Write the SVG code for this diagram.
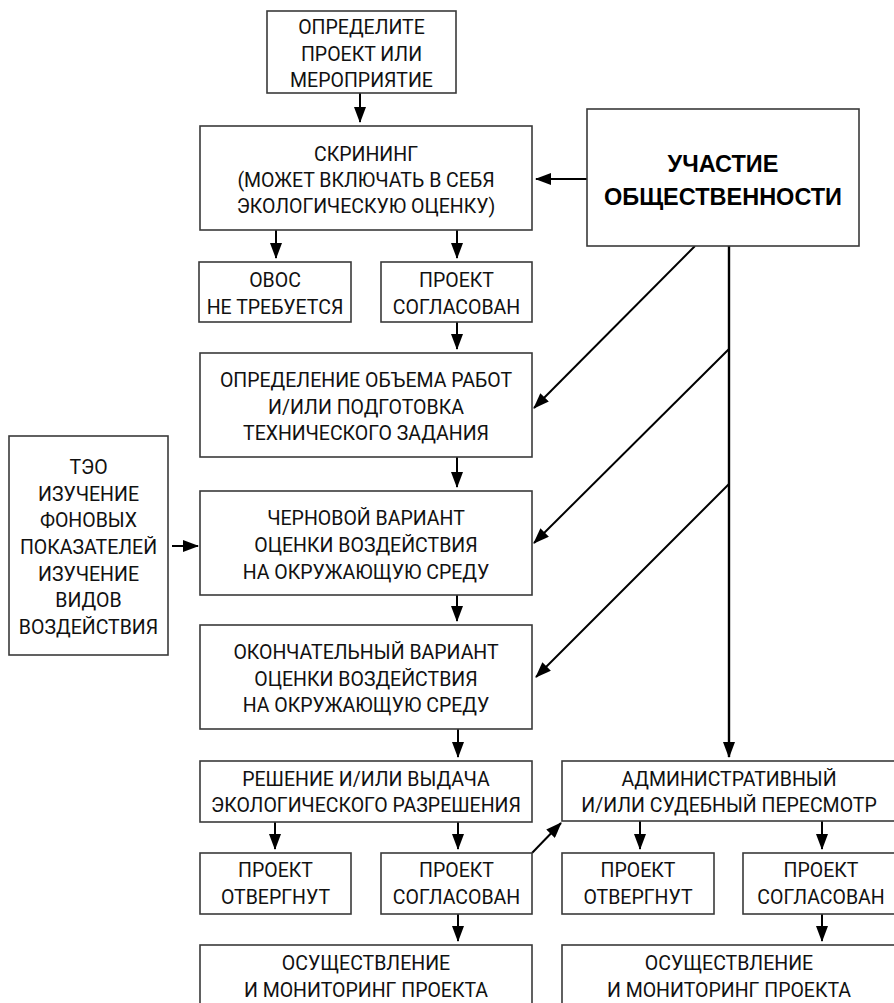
<svg xmlns="http://www.w3.org/2000/svg" width="894" height="1003" viewBox="0 0 894 1003">
<style>
.box{fill:#fff;stroke:#3a3a3a;stroke-width:1.6}
.t{font-family:Roboto,"Liberation Sans",sans-serif;font-size:19.5px;fill:#111;text-anchor:middle}
.b{font-family:"Liberation Sans",sans-serif;font-size:23.5px;font-weight:bold;fill:#000;text-anchor:middle}
.c{fill:none;stroke:#000;stroke-width:2;marker-end:url(#ah)}
</style>
<defs>
<marker id="ah" markerUnits="userSpaceOnUse" markerWidth="16" markerHeight="12" refX="15" refY="6" orient="auto">
<path d="M0,0 L16,6 L0,12 z" fill="#000"/>
</marker>
</defs>
<rect width="894" height="1003" fill="#fff"/>
<g id="connectors">
<line class="c" x1="360" y1="93" x2="360" y2="122"/>
<line class="c" x1="587" y1="179" x2="536" y2="179"/>
<line class="c" x1="276" y1="230" x2="276" y2="258"/>
<line class="c" x1="457" y1="230" x2="457" y2="258"/>
<line class="c" x1="457" y1="322" x2="457" y2="349"/>
<line class="c" x1="457" y1="457" x2="457" y2="487"/>
<line class="c" x1="457" y1="595" x2="457" y2="621"/>
<line class="c" x1="458" y1="729" x2="458" y2="757"/>
<line class="c" x1="275" y1="822" x2="275" y2="849"/>
<line class="c" x1="458" y1="822" x2="458" y2="849"/>
<line class="c" x1="458" y1="914" x2="458" y2="941"/>
<line class="c" x1="532" y1="853" x2="561" y2="823"/>
<line class="c" x1="729" y1="246" x2="729" y2="757" style="stroke-width:2.4"/>
<line class="c" x1="640" y1="821" x2="640" y2="849"/>
<line class="c" x1="822" y1="821" x2="822" y2="849"/>
<line class="c" x1="822" y1="914" x2="822" y2="941"/>
<line class="c" x1="695" y1="246" x2="534" y2="408"/>
<line class="c" x1="729" y1="349" x2="534" y2="543"/>
<line class="c" x1="729" y1="484" x2="536" y2="677"/>
<line class="c" x1="172" y1="546" x2="198" y2="546"/>
</g>
<g id="n-define">
<rect class="box" x="267" y="11" width="189" height="82"/>
<text class="t" x="361.5" y="34">ОПРЕДЕЛИТЕ</text>
<text class="t" x="361.5" y="61">ПРОЕКТ ИЛИ</text>
<text class="t" x="361.5" y="87">МЕРОПРИЯТИЕ</text>
</g>
<g id="n-screening">
<rect class="box" x="200" y="126" width="332" height="104"/>
<text class="t" x="366" y="161">СКРИНИНГ</text>
<text class="t" x="366" y="187">(МОЖЕТ ВКЛЮЧАТЬ В СЕБЯ</text>
<text class="t" x="366" y="213">ЭКОЛОГИЧЕСКУЮ ОЦЕНКУ)</text>
</g>
<g id="n-participation">
<rect class="box" x="587" y="109" width="272" height="137"/>
<text class="b" x="723" y="172">УЧАСТИЕ</text>
<text class="b" x="723" y="205">ОБЩЕСТВЕННОСТИ</text>
</g>
<g id="n-noeia">
<rect class="box" x="199" y="262" width="152" height="60"/>
<text class="t" x="275" y="287">ОВОС</text>
<text class="t" x="275" y="314">НЕ ТРЕБУЕТСЯ</text>
</g>
<g id="n-approved0">
<rect class="box" x="381" y="262" width="151" height="60"/>
<text class="t" x="456.5" y="287">ПРОЕКТ</text>
<text class="t" x="456.5" y="314">СОГЛАСОВАН</text>
</g>
<g id="n-scope">
<rect class="box" x="200" y="353" width="332" height="104"/>
<text class="t" x="366" y="387">ОПРЕДЕЛЕНИЕ ОБЪЕМА РАБОТ</text>
<text class="t" x="366" y="414">И/ИЛИ ПОДГОТОВКА</text>
<text class="t" x="366" y="440">ТЕХНИЧЕСКОГО ЗАДАНИЯ</text>
</g>
<g id="n-teo">
<rect class="box" x="9" y="436" width="159" height="219"/>
<text class="t" x="88.5" y="474">ТЭО</text>
<text class="t" x="88.5" y="501">ИЗУЧЕНИЕ</text>
<text class="t" x="88.5" y="527">ФОНОВЫХ</text>
<text class="t" x="88.5" y="554">ПОКАЗАТЕЛЕЙ</text>
<text class="t" x="88.5" y="581">ИЗУЧЕНИЕ</text>
<text class="t" x="88.5" y="607">ВИДОВ</text>
<text class="t" x="88.5" y="634">ВОЗДЕЙСТВИЯ</text>
</g>
<g id="n-draft">
<rect class="box" x="200" y="491" width="332" height="104"/>
<text class="t" x="366" y="525">ЧЕРНОВОЙ ВАРИАНТ</text>
<text class="t" x="366" y="552">ОЦЕНКИ ВОЗДЕЙСТВИЯ</text>
<text class="t" x="366" y="579">НА ОКРУЖАЮЩУЮ СРЕДУ</text>
</g>
<g id="n-final">
<rect class="box" x="200" y="625" width="332" height="104"/>
<text class="t" x="366" y="659">ОКОНЧАТЕЛЬНЫЙ ВАРИАНТ</text>
<text class="t" x="366" y="686">ОЦЕНКИ ВОЗДЕЙСТВИЯ</text>
<text class="t" x="366" y="712">НА ОКРУЖАЮЩУЮ СРЕДУ</text>
</g>
<g id="n-decision">
<rect class="box" x="200" y="761" width="332" height="61"/>
<text class="t" x="366" y="786">РЕШЕНИЕ И/ИЛИ ВЫДАЧА</text>
<text class="t" x="366" y="812">ЭКОЛОГИЧЕСКОГО РАЗРЕШЕНИЯ</text>
</g>
<g id="n-review">
<rect class="box" x="562" y="761" width="336" height="60"/>
<text class="t" x="729" y="786">АДМИНИСТРАТИВНЫЙ</text>
<text class="t" x="729" y="812">И/ИЛИ СУДЕБНЫЙ ПЕРЕСМОТР</text>
</g>
<g id="n-rejected1">
<rect class="box" x="200" y="853" width="151" height="61"/>
<text class="t" x="275.5" y="877">ПРОЕКТ</text>
<text class="t" x="275.5" y="904">ОТВЕРГНУТ</text>
</g>
<g id="n-approved1">
<rect class="box" x="381" y="853" width="151" height="61"/>
<text class="t" x="456.5" y="877">ПРОЕКТ</text>
<text class="t" x="456.5" y="904">СОГЛАСОВАН</text>
</g>
<g id="n-rejected2">
<rect class="box" x="562" y="853" width="152" height="61"/>
<text class="t" x="638" y="877">ПРОЕКТ</text>
<text class="t" x="638" y="904">ОТВЕРГНУТ</text>
</g>
<g id="n-approved2">
<rect class="box" x="743" y="853" width="156" height="61"/>
<text class="t" x="821" y="877">ПРОЕКТ</text>
<text class="t" x="821" y="904">СОГЛАСОВАН</text>
</g>
<g id="n-impl1">
<rect class="box" x="200" y="945" width="332" height="70"/>
<text class="t" x="366" y="970">ОСУЩЕСТВЛЕНИЕ</text>
<text class="t" x="366" y="997">И МОНИТОРИНГ ПРОЕКТА</text>
</g>
<g id="n-impl2">
<rect class="box" x="562" y="945" width="336" height="70"/>
<text class="t" x="729" y="970">ОСУЩЕСТВЛЕНИЕ</text>
<text class="t" x="729" y="997">И МОНИТОРИНГ ПРОЕКТА</text>
</g>
</svg>
